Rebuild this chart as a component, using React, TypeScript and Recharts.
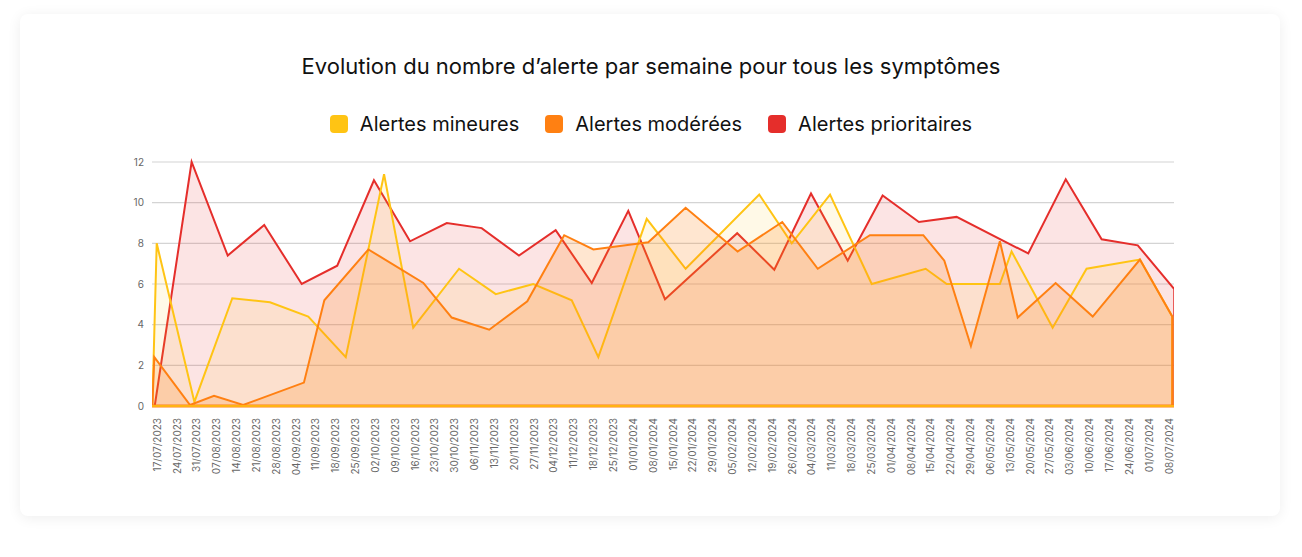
import React from "react";
import { Area, AreaChart, CartesianGrid, ReferenceLine, XAxis, YAxis } from "recharts";

const weekLabels = [
  "17/07/2023", "24/07/2023", "31/07/2023", "07/08/2023", "14/08/2023", "21/08/2023",
  "28/08/2023", "04/09/2023", "11/09/2023", "18/09/2023", "25/09/2023", "02/10/2023",
  "09/10/2023", "16/10/2023", "23/10/2023", "30/10/2023", "06/11/2023", "13/11/2023",
  "20/11/2023", "27/11/2023", "04/12/2023", "11/12/2023", "18/12/2023", "25/12/2023",
  "01/01/2024", "08/01/2024", "15/01/2024", "22/01/2024", "29/01/2024", "05/02/2024",
  "12/02/2024", "19/02/2024", "26/02/2024", "04/03/2024", "11/03/2024", "18/03/2024",
  "25/03/2024", "01/04/2024", "08/04/2024", "15/04/2024", "22/04/2024", "29/04/2024",
  "06/05/2024", "13/05/2024", "20/05/2024", "27/05/2024", "03/06/2024", "10/06/2024",
  "17/06/2024", "24/06/2024", "01/07/2024", "08/07/2024"
];
const weekTicks = weekLabels.map((_, i) => i);
const yTicks = [0, 2, 4, 6, 8, 10, 12];

// position in weeks since 17/07/2023, value
const mineuresWeeks = [-0.22, 0, 1.9, 3.81, 5.71, 7.64, 9.53, 11.46, 12.93, 15.24, 17.09, 18.98, 20.92, 22.26, 24.7, 26.66, 30.37, 32.01, 33.94, 36.04, 38.76, 39.82, 42.5, 43.09, 45.16, 46.87, 49.56, 51.19, 51.19];
const mineuresValues = [0, 8, 0.2, 5.3, 5.1, 4.4, 2.4, 11.4, 3.85, 6.75, 5.5, 6, 5.2, 2.4, 9.2, 6.75, 10.4, 8, 10.4, 6, 6.75, 6, 6, 7.6, 3.85, 6.75, 7.2, 4.4, 0];

const modereesWeeks = [-0.22, -0.12, 1.68, 2.89, 4.36, 7.42, 8.45, 10.67, 13.44, 14.87, 16.76, 18.68, 20.54, 22.01, 24.78, 26.66, 29.28, 31.53, 33.32, 35.95, 38.64, 39.7, 41.04, 42.5, 43.4, 45.31, 47.18, 49.56, 51.19, 51.19];
const modereesValues = [0, 2.4, 0.05, 0.5, 0.05, 1.15, 5.2, 7.7, 6.05, 4.35, 3.75, 5.15, 8.4, 7.7, 8.05, 9.75, 7.6, 9.05, 6.75, 8.4, 8.4, 7.15, 2.95, 8.1, 4.35, 6.05, 4.4, 7.2, 4.4, 0];

const prioritairesWeeks = [-0.1, 1.76, 3.58, 5.42, 7.31, 9.1, 10.95, 12.77, 14.62, 16.38, 18.26, 20.11, 21.93, 23.77, 25.62, 29.26, 31.13, 32.98, 34.83, 36.59, 38.42, 40.32, 43.93, 45.82, 47.63, 49.45, 51.29, 51.29];
const prioritairesValues = [0, 12, 7.4, 8.9, 6, 6.9, 11.1, 8.1, 9, 8.75, 7.4, 8.65, 6.05, 9.6, 5.25, 8.5, 6.7, 10.45, 7.15, 10.35, 9.05, 9.3, 7.5, 11.15, 8.2, 7.9, 5.75, 0];

const toPoints = (weeks: number[], values: number[]) =>
  weeks.map((w, i) => ({ w, v: values[i] }));

const YELLOW = "#FFC414";
const ORANGE = "#FF8012";
const RED = "#E52E2B";

const legendItems = [
  { label: "Alertes mineures", color: YELLOW },
  { label: "Alertes modérées", color: ORANGE },
  { label: "Alertes prioritaires", color: RED }
];

function DateTick({ x, y, payload }: any) {
  return (
    <text
      x={x}
      y={y + 4}
      transform={`rotate(-90, ${x}, ${y + 4})`}
      textAnchor="end"
      dominantBaseline="central"
      fontSize={10}
      fill="#666"
      fontFamily="Inter, sans-serif"
    >
      {weekLabels[payload.value]}
    </text>
  );
}

export default function App() {
  return (
    <div style={{ position: "relative", width: 1302, height: 557, fontFamily: "Inter, sans-serif" }}>
      <style>{`body{margin:0;background:#fff}`}</style>
      <div
        style={{
          position: "absolute",
          left: 20,
          top: 14,
          width: 1260,
          height: 502,
          background: "#fff",
          borderRadius: 8,
          boxShadow: "0 2px 14px rgba(0,0,0,0.07)"
        }}
      />
      <div
        style={{
          position: "absolute",
          top: 53,
          left: 0,
          width: 1302,
          textAlign: "center",
          fontSize: 22,
          color: "#111"
        }}
      >
        Evolution du nombre d’alerte par semaine pour tous les symptômes
      </div>
      <div
        style={{
          position: "absolute",
          top: 112,
          left: 0,
          width: 1302,
          display: "flex",
          justifyContent: "center",
          gap: 26
        }}
      >
        {legendItems.map((it) => (
          <div key={it.label} style={{ display: "flex", alignItems: "center", gap: 12 }}>
            <div style={{ width: 18, height: 18, borderRadius: 4, background: it.color }} />
            <span style={{ fontSize: 20, color: "#111" }}>{it.label}</span>
          </div>
        ))}
      </div>
      <div style={{ position: "absolute", left: 0, top: 0 }}>
        <AreaChart
          width={1302}
          height={557}
          margin={{ top: 162, right: 128, left: 122, bottom: 70 }}
        >
          <CartesianGrid stroke="#d4d4d4" strokeWidth={1.2} vertical={false} />
          <XAxis
            type="number"
            dataKey="w"
            domain={[-0.237, 51.277]}
            allowDataOverflow
            ticks={weekTicks}
            interval={0}
            tick={<DateTick />}
            axisLine={false}
            tickLine={false}
            height={81}
          />
          <YAxis
            type="number"
            dataKey="v"
            domain={[0, 12]}
            ticks={yTicks}
            width={30}
            axisLine={false}
            tickLine={false}
            tick={{ fontSize: 10, fill: "#666", fontFamily: "Inter, sans-serif" }}
          />
          <Area
            data={toPoints(prioritairesWeeks, prioritairesValues)}
            dataKey="v"
            type="linear"
            stroke={RED}
            strokeWidth={2}
            fill={RED}
            fillOpacity={0.13}
            isAnimationActive={false}
            dot={false}
            activeDot={false}
          />
          <Area
            data={toPoints(mineuresWeeks, mineuresValues)}
            dataKey="v"
            type="linear"
            stroke={YELLOW}
            strokeWidth={2}
            fill={YELLOW}
            fillOpacity={0.1}
            isAnimationActive={false}
            dot={false}
            activeDot={false}
          />
          <Area
            data={toPoints(modereesWeeks, modereesValues)}
            dataKey="v"
            type="linear"
            stroke={ORANGE}
            strokeWidth={2}
            fill={ORANGE}
            fillOpacity={0.2}
            isAnimationActive={false}
            dot={false}
            activeDot={false}
          />
          <ReferenceLine y={0} stroke={ORANGE} strokeWidth={3} />
          <ReferenceLine y={0} stroke={YELLOW} strokeWidth={1.5} />
        </AreaChart>
      </div>
    </div>
  );
}
